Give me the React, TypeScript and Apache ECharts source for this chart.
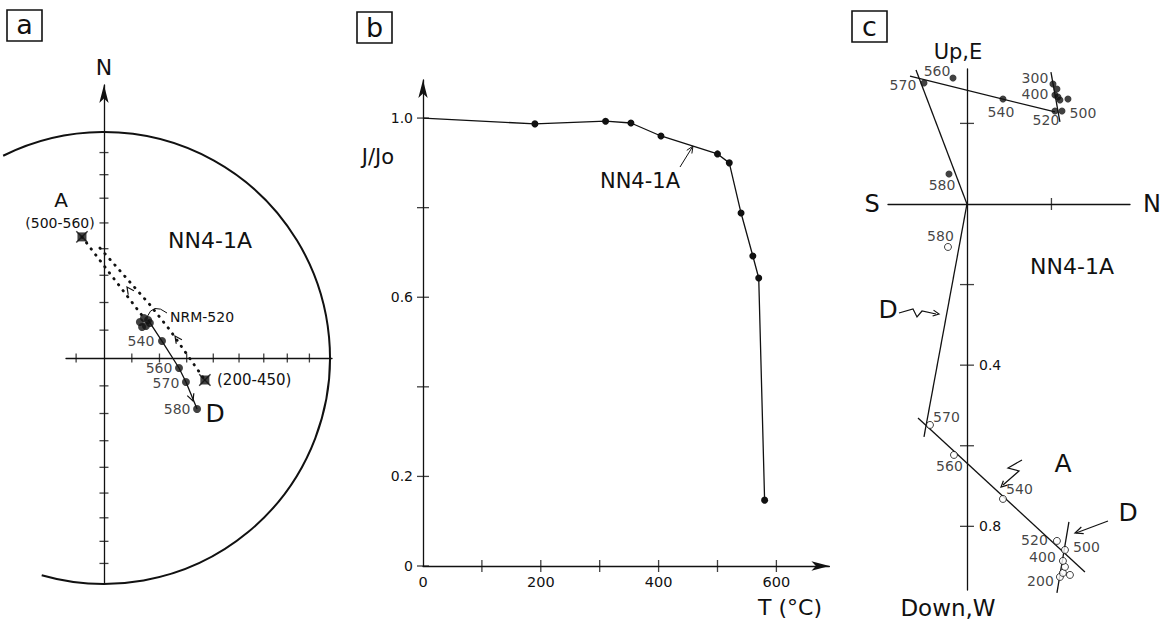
import React, { useEffect, useRef } from "react";
import * as echarts from "echarts";

// ---------------- Panel a : equal-area stereonet (declination / inclination, degrees)
const aNetTickIncs = [80, 70, 60, 50, 40, 30, 20, 10];
const aCompADec = 349.7; // A (500-560)
const aCompAInc = 44.7;
const aCompBDec = 102.3; // (200-450)
const aCompBInc = 52.3;
const aNrmDecs = [45, 45, 49.2, 52.7, 50.8, 52.7]; // NRM-520 cluster
const aNrmIncs = [71.7, 69.6, 69.0, 71.0, 72.3, 69.2];
const aStepLabels = ["540", "560", "570", "580"];
const aStepDecs = [73.7, 97.6, 106.3, 118.7];
const aStepIncs = [68.2, 62.6, 59.0, 51.2];
const aGcDecs = [357.9, 41.0, 67.0, 102.3]; // dotted great-circle path
const aGcIncs = [49.7, 64.6, 64.1, 52.3];

// ---------------- Panel b : J/Jo vs T
const bTemps = [0, 190, 310, 353, 404, 500, 520, 540, 560, 570, 580];
const bJ = [1.0, 0.987, 0.993, 0.989, 0.96, 0.92, 0.9, 0.788, 0.692, 0.643, 0.147];
const bXTicks = [100, 200, 300, 400, 500, 600];
const bXLabels = [0, 200, 400, 600];
const bYTicks = [0, 0.2, 0.4, 0.6, 0.8, 1.0];
const bYLabels = [0, 0.2, 0.6, 1.0];

// ---------------- Panel c : Zijderveld diagram
const cFilledLabels = ["300", "", "400", "", "", "", "500", "520", "540", "560", "570", "580"];
const cFilledN = [0.2036, 0.213, 0.2083, 0.2154, 0.2201, 0.2391, 0.2249, 0.2083, 0.0852, -0.0331, -0.1018, -0.0426];
const cFilledE = [0.2978, 0.2854, 0.2705, 0.2655, 0.2581, 0.2605, 0.2308, 0.2308, 0.2605, 0.3127, 0.3002, 0.0744];
const cOpenLabels = ["200", "", "", "", "400", "500", "520", "540", "560", "570", "580"];
const cOpenN = [0.2201, 0.2272, 0.2438, 0.232, 0.2272, 0.232, 0.213, 0.0852, -0.0308, -0.0876, -0.045];
const cOpenDown = [0.9256, 0.9156, 0.9206, 0.9007, 0.8859, 0.8586, 0.8362, 0.732, 0.6228, 0.5484, 0.1067];
const cFitLines = [
  [[-0.1349, 0.3176], [0.2083, 0.2283]],
  [[-0.1207, 0.3325], [0, 0]],
  [[0.1988, 0.3275], [0.2201, 0.2035]],
  [[0, 0], [-0.1018, -0.5782]],
  [[-0.116, -0.531], [0.2793, -0.9132]],
  [[0.2414, -0.789], [0.213, -0.9653]],
];
const cYTicks = [0.2, -0.2, -0.4, -0.6, -0.8];
const cYLabels = [-0.4, -0.8];
const cXTicks = [0.2];

// ---------------- styles (label offsets in px, separate from data)
const INK = "#111111";
const FONT = "'DejaVu Sans', 'Liberation Sans', sans-serif";
const aStepLabelOffsets = [[-21, 0], [-20, 0], [-20, 1], [-20, 0]];
const cFilledOffsets = [[-18, -6], [0, 0], [-20, -1], [0, 0], [0, 0], [0, 0], [21, 2], [-9, 9], [-2, 13], [-16, -7], [-21, 2], [-7, 11]];
const cOpenOffsets = [[-19, 5], [0, 0], [0, 0], [0, 0], [-20, -3], [22, -2], [-22, 0], [17, -9], [-4, 12], [17, -7], [-7, -10]];

function proj(dec: number, inc: number): number[] {
  const r = Math.SQRT2 * Math.sin(((90 - inc) / 2) * Math.PI / 180);
  const d = dec * Math.PI / 180;
  return [r * Math.sin(d), r * Math.cos(d)];
}
function netRadius(inc: number) {
  return Math.SQRT2 * Math.sin(((90 - inc) / 2) * Math.PI / 180);
}

function lbl(text: string, off: number[], size: number) {
  return {
    show: !!text,
    formatter: text,
    position: [size / 2 + off[0], size / 2 + off[1]],
    align: "center",
    verticalAlign: "middle",
    fontSize: 14,
    fontFamily: FONT,
    color: INK,
  };
}

function arrowHead(tx: number, ty: number, fx: number, fy: number, len = 8, half = 3.5) {
  const dx = tx - fx, dy = ty - fy;
  const L = Math.hypot(dx, dy);
  const ux = dx / L, uy = dy / L;
  const bx = tx - ux * len, by = ty - uy * len;
  return [[bx - uy * half, by + ux * half], [tx, ty], [bx + uy * half, by - ux * half]];
}

function txt(text: string, x: number, y: number, size: number, align = "center") {
  return {
    type: "text",
    x,
    y,
    silent: true,
    style: {
      text,
      fontSize: size,
      fontFamily: FONT,
      fill: INK,
      align,
      verticalAlign: "middle",
      textAlign: align,
      textVerticalAlign: "middle",
    },
  };
}
function pl(points: number[][], w = 1.3) {
  return { type: "polyline", silent: true, shape: { points }, style: { stroke: INK, lineWidth: w, fill: null } };
}
function box(x: number, y: number, w: number, h: number) {
  return { type: "rect", silent: true, shape: { x, y, width: w, height: h }, style: { stroke: INK, lineWidth: 1.6, fill: "none" } };
}

function tickSeries(xi: number, pts: number[][], size: number[]) {
  return {
    type: "scatter",
    xAxisIndex: xi,
    yAxisIndex: xi,
    symbol: "rect",
    symbolSize: size,
    silent: true,
    clip: false,
    itemStyle: { color: INK },
    data: pts,
    z: 3,
  };
}

function buildOption() {
  const lineStyle = { color: INK, width: 1.3 };
  const arrowLine = { show: true, onZero: true, lineStyle, symbol: ["none", "arrow"], symbolSize: [7, 18], symbolOffset: [0, 0] };
  const baseAxis = {
    type: "value",
    splitLine: { show: false },
    axisTick: { show: false },
    axisLabel: { show: false },
  };

  // panel a data
  const nrmPts = aNrmDecs.map((d, k) => proj(d, aNrmIncs[k]));
  const stepPts = aStepDecs.map((d, k) => proj(d, aStepIncs[k]));
  const pA = proj(aCompADec, aCompAInc);
  const pB = proj(aCompBDec, aCompBInc);
  const gcPts = aGcDecs.map((d, k) => proj(d, aGcIncs[k]));
  const aTicksV: number[][] = [];
  const aTicksH: number[][] = [];
  aNetTickIncs.forEach((inc) => {
    const r = netRadius(inc);
    aTicksV.push([0, r], [0, -r]);
    aTicksH.push([r, 0]);
  });
  aTicksH.push([-netRadius(aNetTickIncs[0]), 0]);

  const dotted = { color: INK, width: 2.8, type: [0.5, 7], cap: "round" };

  const series: any[] = [
    // ----- panel a
    tickSeries(0, aTicksV, [9, 1.3]),
    tickSeries(0, aTicksH, [1.3, 9]),
    { type: "line", xAxisIndex: 0, yAxisIndex: 0, data: [pA, nrmPts[1]], symbol: "none", clip: false, lineStyle: dotted, silent: true },
    { type: "line", xAxisIndex: 0, yAxisIndex: 0, data: gcPts, symbol: "none", clip: false, lineStyle: dotted, silent: true },
    { type: "line", xAxisIndex: 0, yAxisIndex: 0, data: [nrmPts[2], ...stepPts], symbol: "none", clip: false, lineStyle, silent: true },
    {
      type: "scatter", xAxisIndex: 0, yAxisIndex: 0, symbol: "circle", symbolSize: 8, clip: false,
      itemStyle: { color: INK }, data: nrmPts, z: 4,
    },
    {
      type: "scatter", xAxisIndex: 0, yAxisIndex: 0, symbol: "circle", symbolSize: 8, clip: false,
      itemStyle: { color: INK }, z: 4,
      data: stepPts.map((p, k) => ({ value: p, label: lbl(aStepLabels[k], aStepLabelOffsets[k], 8) })),
    },
    { type: "scatter", xAxisIndex: 0, yAxisIndex: 0, symbol: "rect", symbolSize: 9, itemStyle: { color: INK }, data: [pA, pB], clip: false, z: 4 },
    { type: "scatter", xAxisIndex: 0, yAxisIndex: 0, symbol: "rect", symbolSize: [16, 1.5], symbolRotate: 45, itemStyle: { color: INK }, data: [pA, pB], clip: false, z: 4 },
    { type: "scatter", xAxisIndex: 0, yAxisIndex: 0, symbol: "rect", symbolSize: [16, 1.5], symbolRotate: -45, itemStyle: { color: INK }, data: [pA, pB], clip: false, z: 4 },

    // ----- panel b
    tickSeries(1, bXTicks.map((t) => [t, 0]), [1.3, 12]),
    tickSeries(1, bYTicks.map((v) => [0, v]), [12, 1.3]),
    {
      type: "line", xAxisIndex: 1, yAxisIndex: 1, symbol: "circle", symbolSize: 7, showSymbol: true, clip: false,
      lineStyle, itemStyle: { color: INK }, z: 4,
      data: bTemps.map((t, i) => (i === 0 ? { value: [t, bJ[i]], symbol: "none" } : [t, bJ[i]])),
    },

    // ----- panel c
    tickSeries(2, cYTicks.map((v) => [0, v]), [14, 1.3]),
    tickSeries(2, cXTicks.map((v) => [v, 0]), [1.3, 12]),
    ...cFitLines.map((seg) => ({
      type: "line", xAxisIndex: 2, yAxisIndex: 2, data: seg, symbol: "none", clip: false, lineStyle, silent: true,
    })),
    {
      type: "scatter", xAxisIndex: 2, yAxisIndex: 2, symbol: "circle", symbolSize: 7, clip: false,
      itemStyle: { color: INK }, z: 4,
      data: cFilledN.map((n, k) => ({ value: [n, cFilledE[k]], label: lbl(cFilledLabels[k], cFilledOffsets[k], 7) })),
    },
    {
      type: "scatter", xAxisIndex: 2, yAxisIndex: 2, symbol: "circle", symbolSize: 7, clip: false,
      itemStyle: { color: "#fff", borderColor: INK, borderWidth: 1 }, z: 4,
      data: cOpenN.map((n, k) => ({ value: [n, -cOpenDown[k]], label: lbl(cOpenLabels[k], cOpenOffsets[k], 7) })),
    },
  ];

  const deg = Math.PI / 180;
  const graphics: any[] = [
    // panel boxes
    box(7, 10, 35, 31), txt("a", 24.5, 24, 27),
    box(357, 12, 35, 31), txt("b", 374.5, 27, 27),
    box(852, 11, 35, 31), txt("c", 869.5, 26, 27),

    // panel a
    {
      type: "arc", silent: true,
      shape: { cx: 104, cy: 358, r: 226, startAngle: -116.5 * deg, endAngle: 106 * deg, clockwise: true },
      style: { stroke: INK, lineWidth: 2, fill: "none" },
    },
    txt("N", 104, 67, 22),
    txt("A", 61, 200, 20),
    txt("(500-560)", 60, 223, 14),
    txt("NN4-1A", 210, 240, 22),
    txt("NRM-520", 170, 317, 14, "left"),
    txt("(200-450)", 217, 380, 15, "left"),
    txt("D", 215, 413, 25),
    pl(arrowHead(193, 401, 187, 385, 7, 3.5), 1.2),
    pl(arrowHead(127, 287, 132, 294, 7, 3.5), 1.2),
    pl(arrowHead(175, 336, 180, 343, 7, 3.5), 1.2),
    {
      type: "bezierCurve", silent: true,
      shape: { x1: 167, y1: 313, cpx1: 153, cpy1: 302, x2: 147, y2: 317 },
      style: { stroke: INK, lineWidth: 1, fill: "none" },
    },

    // panel b
    txt("J/Jo", 378, 157, 21),
    txt("NN4-1A", 640, 181, 21),
    pl([[680, 167], [693, 146]], 1),
    pl(arrowHead(693, 146, 680, 167, 7, 3), 1),
    txt("T (°C)", 790, 607, 22),

    // panel c
    txt("Up,E", 958, 52, 21),
    txt("Down,W", 948, 608, 23),
    txt("S", 872, 204, 24),
    txt("N", 1152, 204, 24),
    txt("NN4-1A", 1072, 266, 22),
    txt("D", 888, 309, 25),
    pl([[899, 313], [913, 309], [917, 317], [922, 311], [936, 314]], 1.2),
    pl(arrowHead(939, 314, 926, 312, 6, 3), 1.2),
    txt("A", 1063, 463, 25),
    pl([[1022, 460], [1008, 468], [1019, 471], [1003, 485]], 1.2),
    pl(arrowHead(1001, 487, 1012, 477, 6, 3), 1.2),
    txt("D", 1128, 512, 25),
    pl([[1108, 521], [1076, 533]], 1.2),
    pl(arrowHead(1075, 533, 1108, 521, 8, 3.5), 1.2),
  ];

  return {
    animation: false,
    backgroundColor: "#ffffff",
    textStyle: { fontFamily: FONT, color: INK },
    grid: [
      { left: 66, top: 85, width: 266, height: 499, outerBoundsMode: "none", containLabel: false },
      { left: 423, top: 80, width: 406.4, height: 486, outerBoundsMode: "none", containLabel: false },
      { left: 888, top: 69, width: 242, height: 521, outerBoundsMode: "none", containLabel: false },
    ],
    xAxis: [
      { ...baseAxis, gridIndex: 0, min: -0.168, max: 1.009, axisLine: { show: true, onZero: true, lineStyle } },
      {
        ...baseAxis, gridIndex: 1, min: 0, max: 690,
        axisLine: arrowLine,
        axisLabel: {
          show: true, customValues: bXLabels, margin: 8, fontSize: 14.5, fontFamily: FONT, color: INK,
          formatter: (v: number) => String(Math.round(v)),
        },
      },
      { ...baseAxis, gridIndex: 2, min: -0.187, max: 0.386, axisLine: { show: true, onZero: true, lineStyle } },
    ],
    yAxis: [
      { ...baseAxis, gridIndex: 0, min: -1.0, max: 1.208, axisLine: arrowLine },
      {
        ...baseAxis, gridIndex: 1, min: 0, max: 1.085,
        axisLine: arrowLine,
        axisLabel: {
          show: true, customValues: bYLabels, margin: 10, fontSize: 14, fontFamily: FONT, color: INK,
          formatter: (v: number) => (v === 0 ? "0" : v.toFixed(1)),
        },
      },
      {
        ...baseAxis, gridIndex: 2, min: -0.958, max: 0.335, position: "right", offset: -163,
        axisLine: { show: true, onZero: false, lineStyle },
        axisLabel: {
          show: true, inside: false, customValues: cYLabels, margin: 12, fontSize: 14, fontFamily: FONT, color: INK,
          formatter: (v: number) => Math.abs(v).toFixed(1),
        },
      },
    ],
    series,
    graphic: { elements: graphics },
  };
}

export default function App() {
  const ref = useRef<HTMLDivElement>(null);
  useEffect(() => {
    if (!ref.current) return;
    const chart = echarts.init(ref.current, null, { renderer: "svg" });
    chart.setOption(buildOption() as any);
    return () => chart.dispose();
  }, []);
  return (
    <div
      ref={ref}
      style={{ position: "fixed", left: 0, top: 0, width: 1173, height: 623, background: "#fff" }}
    />
  );
}
